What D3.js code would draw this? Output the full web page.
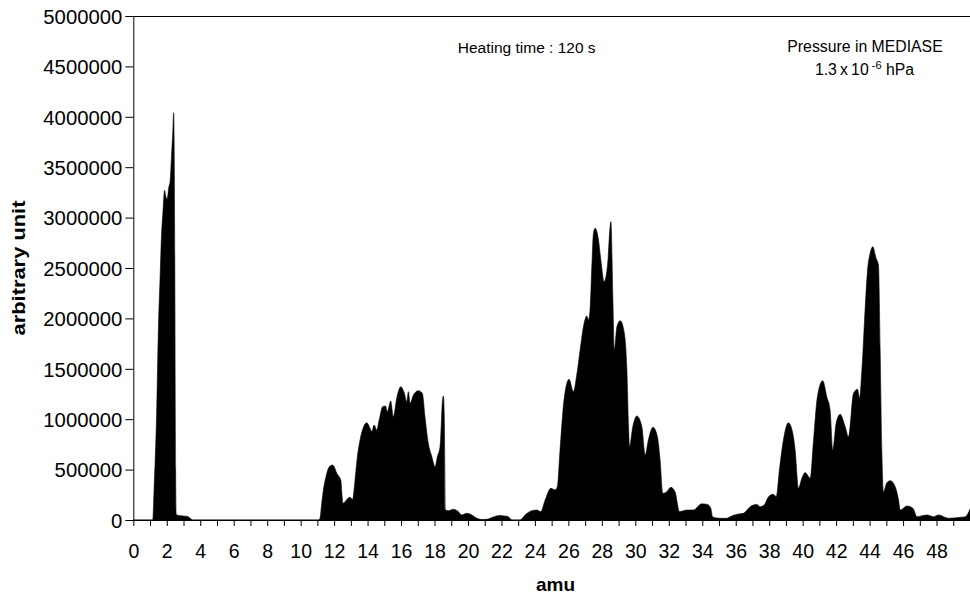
<!DOCTYPE html>
<html>
<head>
<meta charset="utf-8">
<script src="https://cdn.jsdelivr.net/npm/d3@7"></script>
<style>
  body { margin: 0; background: #fff; }
  svg { display: block; font-family: "Liberation Sans", Arial, sans-serif; }
</style>
</head>
<body>
<svg id="chart" width="970" height="595"></svg>
<script>
// mass spectrum: amu and signal (arbitrary unit)
const amu = [
  0, 1.1, 1.16, 1.24, 1.40, 1.50, 1.60, 1.68, 1.77, 1.87, 1.93, 2.02, 2.12, 2.20, 2.28, 2.36, 2.41, 2.44, 2.48, 2.53, 2.56, 2.70, 3.0, 3.25, 3.45, 3.55,
  11.0, 11.06, 11.16, 11.25, 11.36, 11.5, 11.66, 11.8, 11.9, 12.0, 12.16, 12.3, 12.4, 12.47, 12.52, 12.65, 12.8, 12.91, 13.0, 13.11, 13.18, 13.25, 13.39, 13.55, 13.75, 13.95,
  14.15, 14.25, 14.39, 14.55, 14.7, 14.9, 15.07, 15.18, 15.38, 15.54, 15.74, 15.98, 16.2, 16.34, 16.44, 16.54, 16.74, 17.04, 17.27, 17.43, 17.63, 17.84, 18.03, 18.17, 18.33,
  18.49, 18.53, 18.59, 18.65, 18.83, 19.13, 19.43, 19.63, 19.93, 20.23, 20.53, 20.8, 21.12, 21.52, 21.88, 22.2, 22.41, 22.62, 23.11, 23.41, 23.81, 24.11, 24.35, 24.61, 24.95,
  25.2, 25.34, 25.5, 25.74, 26.04, 26.3, 26.5, 26.7, 26.9, 27.1, 27.2, 27.3, 27.4, 27.5, 27.6, 27.8, 27.94, 28.14, 28.33, 28.54, 28.66, 28.74, 28.9, 29.1, 29.33, 29.49,
  29.6, 29.65, 29.85, 30.09, 30.39, 30.59, 30.78, 31.05, 31.32, 31.48, 31.64, 31.88, 32.12, 32.37, 32.64, 33.08, 33.47, 33.97, 34.3, 34.51, 34.62, 35.07, 35.47, 35.57,
  36.07, 36.46, 36.86, 37.26, 37.46, 37.7, 37.96, 38.25, 38.42, 38.61, 38.85, 39.15, 39.41, 39.55, 39.75, 39.95, 40.15, 40.45, 40.65, 40.88, 41.2, 41.44, 41.64, 41.8,
  42.0, 42.24, 42.54, 42.74, 43.04, 43.28, 43.4, 43.54, 43.74, 43.87, 44.03, 44.19, 44.39, 44.53, 44.63, 44.73, 44.83, 45.03, 45.23, 45.53, 45.73, 45.83, 46.23, 46.59,
  46.83, 47.43, 47.82, 48.12, 48.72, 49.42, 49.72, 50
];
const signal = [
  0, 0, 0, 300000, 1100000, 1900000, 2400000, 2800000, 3050000, 3270000, 3220000, 3180000, 3300000, 3360000, 3600000, 3850000, 4040000, 3750000, 2500000, 500000, 60000, 45000, 40000, 35000, 10000, 0,
  0, 0, 20000, 150000, 298000, 420000, 513000, 540000, 546000, 530000, 463000, 430000, 397000, 250000, 165000, 182000, 210000, 225000, 220000, 205000, 280000, 397000, 628000, 794000, 920000, 965000,
  910000, 876000, 942000, 893000, 999000, 1124000, 1131000, 1074000, 1180000, 1025000, 1207000, 1322000, 1256000, 1174000, 1273000, 1158000, 1240000, 1283000, 1257000, 1025000, 761000, 628000, 529000, 628000, 727000,
  1207000, 1230000, 960000, 99000, 92000, 106000, 83000, 50000, 66000, 50000, 17000, 5000, 7000, 30000, 45000, 40000, 33000, 0, 0, 50000, 92000, 99000, 83000, 198000, 314000,
  298000, 331000, 694000, 1190000, 1396000, 1273000, 1438000, 1686000, 1918000, 2024000, 1984000, 2100000, 2513000, 2850000, 2894000, 2778000, 2580000, 2364000, 2513000, 2960000, 2180000, 1686000, 1918000, 1977000, 1868000, 1521000,
  900000, 727000, 926000, 1032000, 926000, 645000, 794000, 920000, 826000, 595000, 265000, 281000, 324000, 281000, 83000, 99000, 99000, 160000, 155000, 116000, 30000, 17000, 17000, 25000,
  56000, 66000, 132000, 155000, 132000, 149000, 231000, 255000, 231000, 496000, 794000, 965000, 860000, 694000, 314000, 413000, 470000, 413000, 794000, 1223000, 1382000, 1223000, 1091000, 694000,
  959000, 1048000, 926000, 826000, 1257000, 1297000, 1207000, 1488000, 2116000, 2463000, 2646000, 2711000, 2596000, 2530000, 1686000, 694000, 281000, 370000, 390000, 331000, 198000, 99000, 139000, 116000,
  33000, 50000, 33000, 50000, 17000, 27000, 33000, 106000
];

const yTicks = d3.range(0, 5000001, 500000);
const xTicks = d3.range(0, 51, 1);
const xLabels = d3.range(0, 49, 2);

const yTitle = "arbitrary unit";
const xTitle = "amu";
const note1 = "Heating time : 120 s";
const note2 = "Pressure in MEDIASE";

// 版面
const margin = { left: 133.3, top: 16, right: 970, bottom: 520 };
const svg = d3.select("#chart");

const x = d3.scaleLinear().domain([0, 50]).range([margin.left, margin.right]);
const y = d3.scaleLinear().domain([0, 5000000]).range([margin.bottom, margin.top]);

const points = amu.map((a, i) => ({ a, v: signal[i] }));

// 填滿面積
svg.append("path")
  .datum(points)
  .attr("fill", "#000")
  .attr("stroke", "#000")
  .attr("stroke-width", 0.6)
  .attr("d", d3.area()
    .curve(d3.curveMonotoneX)
    .x(d => x(d.a))
    .y0(y(0))
    .y1(d => y(d.v)));

// 上框線
svg.append("line")
  .attr("x1", margin.left).attr("x2", margin.right)
  .attr("y1", margin.top + 0.5).attr("y2", margin.top + 0.5)
  .attr("stroke", "#000").attr("stroke-width", 1);

// Y 軸
const yAxis = svg.append("g")
  .attr("transform", `translate(${margin.left},0)`)
  .call(d3.axisLeft(y).tickValues(yTicks).tickFormat(d3.format("d")).tickSize(8).tickPadding(3).tickSizeOuter(0));
yAxis.selectAll("text")
  .attr("font-size", 20.3)
  .attr("fill", "#000")
  .attr("dy", "0.36em");
yAxis.selectAll("line, path").attr("stroke", "#000");

// X 軸
const xAxis = svg.append("g")
  .attr("transform", `translate(0,${margin.bottom})`)
  .call(d3.axisBottom(x).tickValues(xTicks)
    .tickFormat(d => xLabels.includes(d) ? d : "")
    .tickSize(6).tickSizeOuter(0));
xAxis.selectAll("text")
  .attr("font-size", 19.5)
  .attr("fill", "#000")
  .attr("y", 24)
  .attr("dy", "0.71em");
xAxis.selectAll("line, path").attr("stroke", "#000");

// 軸標題
svg.append("text")
  .attr("transform", "translate(25,268) rotate(-90)")
  .attr("text-anchor", "middle")
  .attr("font-size", 18)
  .attr("font-weight", "bold")
  .attr("textLength", 135)
  .attr("lengthAdjust", "spacingAndGlyphs")
  .text(yTitle);

svg.append("text")
  .attr("x", 555.5).attr("y", 591)
  .attr("text-anchor", "middle")
  .attr("font-size", 19)
  .attr("font-weight", "bold")
  .text(xTitle);

// 註解
svg.append("text")
  .attr("x", 526.7).attr("y", 53)
  .attr("text-anchor", "middle")
  .attr("font-size", 15.5)
  .text(note1);

svg.append("text")
  .attr("x", 865).attr("y", 52)
  .attr("text-anchor", "middle")
  .attr("font-size", 15.8)
  .text(note2);

const p = svg.append("text")
  .attr("x", 864.5).attr("y", 74.5)
  .attr("text-anchor", "middle")
  .attr("font-size", 15.8);
p.append("tspan").text("1.3\u2009x\u200910");
p.append("tspan").attr("font-size", 11).attr("dy", -6).text(" -6");
p.append("tspan").attr("dy", 6).text(" hPa");
</script>
</body>
</html>
